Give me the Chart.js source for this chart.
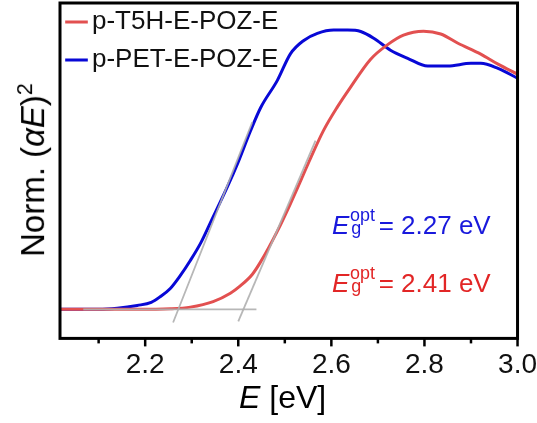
<!DOCTYPE html>
<html>
<head>
<meta charset="utf-8">
<script src="https://cdn.jsdelivr.net/npm/chart.js@4"></script>
<style>
  html, body { margin: 0; padding: 0; background: #fff; }
  #wrap { position: relative; width: 537px; height: 423px; font-family: "Liberation Sans", Arial, sans-serif; }
  canvas { position: absolute; left: 0; top: 0; }
  .ov { position: absolute; white-space: nowrap; line-height: 1; }
  .stack { display: inline-block; position: relative; width: 0.85em; height: 1em; }
  .stack .sup { position: absolute; left: 0.04em; top: -0.04em; font-size: 0.69em; }
  .stack .sub { position: absolute; left: 0.1em; top: 0.65em; font-size: 0.69em; }
</style>
</head>
<body>
<div id="wrap">
  <canvas id="c" width="537" height="423"></canvas>
  <div class="ov" id="ytitle" style="font-size:33px; left:31.5px; top:170px; transform: translate(-50%,-50%) rotate(-90deg);">Norm. (<i>&alpha;E</i>)<sup style="font-size:0.65em; vertical-align:0.55em;">2</sup></div>
  <div class="ov" id="xtitle" style="font-size:32px; left:239px; top:381px;"><i>E</i> [eV]</div>
  <div class="ov" id="ann1" style="font-size:26px; color:#1919dc; left:332px; top:208px;"><i>E</i><span class="stack"><span class="sup">opt</span><span class="sub">g</span></span> = 2.27 eV</div>
  <div class="ov" id="ann2" style="font-size:26px; color:#e22626; left:332px; top:266px;"><i>E</i><span class="stack"><span class="sup">opt</span><span class="sub">g</span></span> = 2.41 eV</div>
</div>
<script>
// ---- data ----
const seriesNames = ["p-T5H-E-POZ-E", "p-PET-E-POZ-E"];

const redE = [2.017, 2.10, 2.18, 2.254, 2.297, 2.346, 2.383, 2.405, 2.43, 2.448, 2.484, 2.512, 2.534, 2.551, 2.583, 2.613, 2.641, 2.684, 2.721, 2.755, 2.798, 2.835, 2.872, 2.921, 2.958, 3.0];
const redY = [0, 0, 0, 0.002, 0.008, 0.028, 0.058, 0.085, 0.125, 0.17, 0.28, 0.378, 0.46, 0.525, 0.64, 0.725, 0.795, 0.895, 0.948, 0.982, 0.996, 0.986, 0.953, 0.914, 0.878, 0.842];

const blueE = [2.017, 2.10, 2.14, 2.183, 2.213, 2.232, 2.254, 2.275, 2.297, 2.32, 2.34, 2.377, 2.398, 2.426, 2.448, 2.484, 2.512, 2.54, 2.57, 2.605, 2.635, 2.663, 2.691, 2.727, 2.764, 2.807, 2.85, 2.90, 2.921, 2.958, 3.0];
const blueY = [0, 0, 0.004, 0.014, 0.025, 0.045, 0.075, 0.12, 0.175, 0.24, 0.31, 0.44, 0.52, 0.638, 0.722, 0.82, 0.915, 0.962, 0.988, 1.0, 1.0, 0.995, 0.971, 0.928, 0.899, 0.871, 0.871, 0.881, 0.881, 0.863, 0.828];

// fitting lines (baseline and tangents)
const baseE = [2.067, 2.439];
const baseY = [0, 0];
const blueTanE = [2.26, 2.43];
const blueTanY = [-0.047, 0.67];
const redTanE = [2.40, 2.566];
const redTanY = [-0.043, 0.604];

const xMin = 2.017, xMax = 3.0, yMin = -0.104, yMax = 1.097;
const tickValues = [2.1, 2.2, 2.3, 2.4, 2.5, 2.6, 2.7, 2.8, 2.9, 3.0];
const tickLabels = ["", "2.2", "", "2.4", "", "2.6", "", "2.8", "", "3.0"];

function pts(xs, ys) { return xs.map((x, i) => ({ x: x, y: ys[i] })); }

const RED = "rgb(226,80,80)";
const BLUE = "rgb(8,8,214)";
const GRAY = "rgba(175,175,175,0.9)";

const frame = {
  id: "frame",
  afterLayout(chart) {
    // nudge the in-plot legend to its place in the reference
    if (chart.legend) { chart.legend.left += 2; chart.legend.top -= 3; }
  },
  afterDatasetsDraw(chart) {
    const { ctx, chartArea: a, scales } = chart;
    ctx.save();
    ctx.strokeStyle = "#000";
    ctx.lineWidth = 3;
    ctx.strokeRect(a.left, a.top, a.right - a.left, a.bottom - a.top);
    ctx.lineWidth = 2.5;
    tickValues.forEach((v, i) => {
      const px = scales.x.getPixelForValue(v);
      const len = tickLabels[i] ? 8 : 5;
      ctx.beginPath();
      ctx.moveTo(px, a.bottom);
      ctx.lineTo(px, a.bottom + len);
      ctx.stroke();
    });
    ctx.restore();
  }
};

const chart = new Chart(document.getElementById("c"), {
  type: "line",
  data: {
    datasets: [
      { label: seriesNames[0], data: pts(redE, redY), borderColor: RED, backgroundColor: RED, borderWidth: 3, order: 2 },
      { label: seriesNames[1], data: pts(blueE, blueY), borderColor: BLUE, backgroundColor: BLUE, borderWidth: 3, order: 3 },
      { label: "baseline", data: pts(baseE, baseY), borderColor: GRAY, borderWidth: 1.8, order: 1, tension: 0 },
      { label: "tan1", data: pts(blueTanE, blueTanY), borderColor: GRAY, borderWidth: 1.8, order: 1, tension: 0 },
      { label: "tan2", data: pts(redTanE, redTanY), borderColor: GRAY, borderWidth: 1.8, order: 1, tension: 0 }
    ]
  },
  options: {
    responsive: false,
    animation: false,
    events: [],
    elements: {
      point: { radius: 0 },
      line: { cubicInterpolationMode: "monotone", fill: false }
    },
    layout: { padding: { left: 60, right: 0, top: 3, bottom: 41 } },
    scales: {
      x: {
        type: "linear",
        min: xMin, max: xMax,
        afterBuildTicks(scale) { scale.ticks = tickValues.map(v => ({ value: v })); },
        grid: { display: true, drawOnChartArea: false, drawTicks: true, tickLength: 10, color: "rgba(0,0,0,0)" },
        border: { display: false },
        ticks: {
          padding: 0,
          autoSkip: false,
          maxRotation: 0,
          color: "#111",
          font: { family: "Liberation Sans", size: 28 },
          callback(v, i) { return tickLabels[i]; }
        }
      },
      y: { display: false, min: yMin, max: yMax }
    },
    plugins: {
      tooltip: { enabled: false },
      legend: {
        position: "chartArea",
        align: "start",
        labels: {
          usePointStyle: true,
          boxWidth: 5,
          boxHeight: 16,
          padding: 12,
          color: "#111",
          font: { family: "Liberation Sans", size: 26, lineHeight: 1.0 },
          generateLabels(ch) {
            return ch.data.datasets.slice(0, 2).map((d, i) => ({
              text: d.label, fillStyle: d.borderColor, strokeStyle: d.borderColor,
              lineWidth: 3, pointStyle: "line", hidden: false, datasetIndex: i, fontColor: "#111"
            }));
          }
        }
      }
    }
  },
  plugins: [frame]
});
</script>
</body>
</html>
